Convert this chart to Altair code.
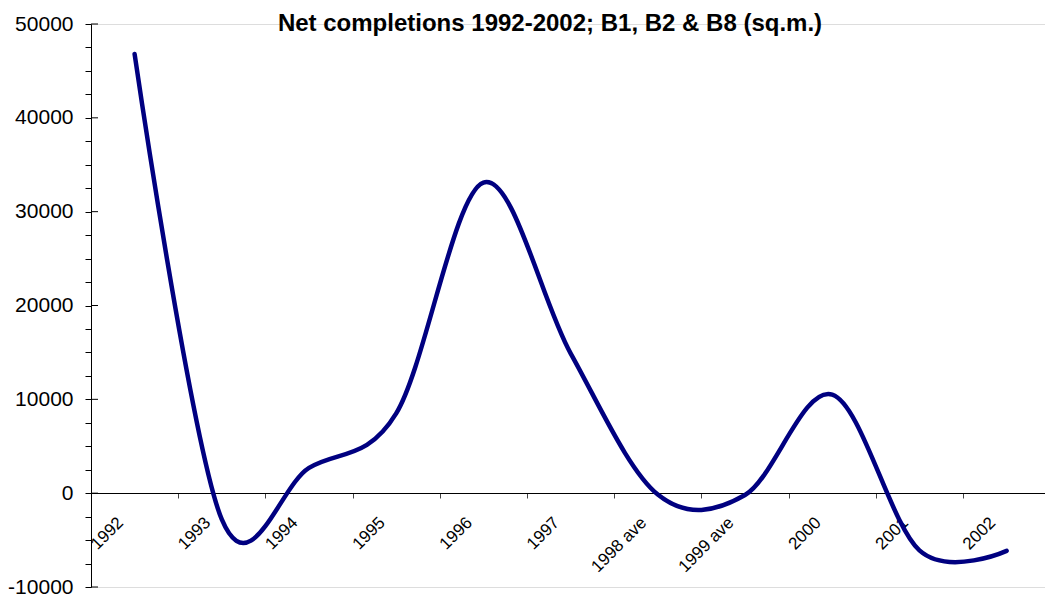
import altair as alt
import pandas as pd

# Net completions by year (sq.m.)
years = ['1992', '1993', '1994', '1995', '1996', '1997',
         '1998 ave', '1999 ave', '2000', '2001', '2002']
completions = [46800, -2800, 2700, 8500, 33100, 14900,
               -150, -200, 10500, -6100, -6150]

# y axis: labelled every 10000, minor ticks every 2500
y_major = [-10000, 0, 10000, 20000, 30000, 40000, 50000]
y_ticks = list(range(-10000, 50001, 2500))

df = pd.DataFrame({'idx': list(range(len(years))), 'year': years, 'value': completions})

# category centres carry the labels, category boundaries carry the tick marks
x_ticks = sorted(list(range(len(years))) + [i + 0.5 for i in range(len(years) - 1)])
label_array = '[' + ','.join("'" + y + "'" for y in years) + ']'

FONT = 'Liberation Sans'
x_scale = alt.Scale(domain=[-0.5, 10.44], nice=False, zero=False)
y_scale = alt.Scale(domain=[-10000, 50000], nice=False, zero=False)

x_axis = alt.Axis(
    values=x_ticks,
    offset=-94,
    title=None,
    grid=False,
    domainColor='black',
    domainWidth=1,
    tickColor='#444444',
    tickSize=5,
    tickWidth=1,
    tickOpacity={'condition': {'test': 'datum.value % 1 == 0', 'value': 0}, 'value': 1},
    labelExpr=f"datum.value % 1 == 0 ? {label_array}[datum.value] : ''",
    labelAngle=-45,
    labelAlign='right',
    labelBaseline='top',
    labelPadding=16,
    labelOffset=-20,
    labelFont=FONT,
    labelFontSize=17,
    labelColor='black',
    labelOverlap=False,
    labelFlush=False,
)

y_axis = alt.Axis(
    values=y_ticks,
    title=None,
    grid=False,
    domainColor='black',
    domainWidth=1,
    tickColor='black',
    tickSize=6,
    tickWidth=1,
    labelExpr="datum.value % 10000 == 0 ? '' + datum.value : ''",
    labelPadding=12,
    labelFont=FONT,
    labelFontSize=21,
    labelColor='black',
    labelOverlap=False,
    labelFlush=False,
)

line = alt.Chart(df).mark_line(
    interpolate='cardinal', color='#000080', strokeWidth=4.5,
    strokeCap='round', strokeJoin='round'
).encode(
    x=alt.X('idx:Q', scale=x_scale, axis=x_axis),
    y=alt.Y('value:Q', scale=y_scale, axis=y_axis),
)

# inner half of the major y ticks (they cross the axis line)
major_inner = alt.Chart(pd.DataFrame({'v': y_major})).mark_rule(
    color='black', strokeWidth=1
).encode(
    y=alt.Y('v:Q', scale=y_scale, axis=y_axis),
    x=alt.value(0),
    x2=alt.value(7),
)

chart = alt.layer(major_inner, line).properties(
    width=954,
    height=563,
    title=alt.TitleParams(
        'Net completions 1992-2002; B1, B2 & B8 (sq.m.)',
        font=FONT, fontSize=24, fontWeight='bold', color='black',
        anchor='middle', dx=-18, offset=0, dy=42, baseline='alphabetic',
    ),
    autosize=alt.AutoSizeParams(type='none'),
    padding={'left': 91, 'top': 24, 'right': 0, 'bottom': 10},
).configure_view(stroke=None).configure(background='white')

chart.save('out.html', embed_options={'renderer': 'svg', 'actions': False})
